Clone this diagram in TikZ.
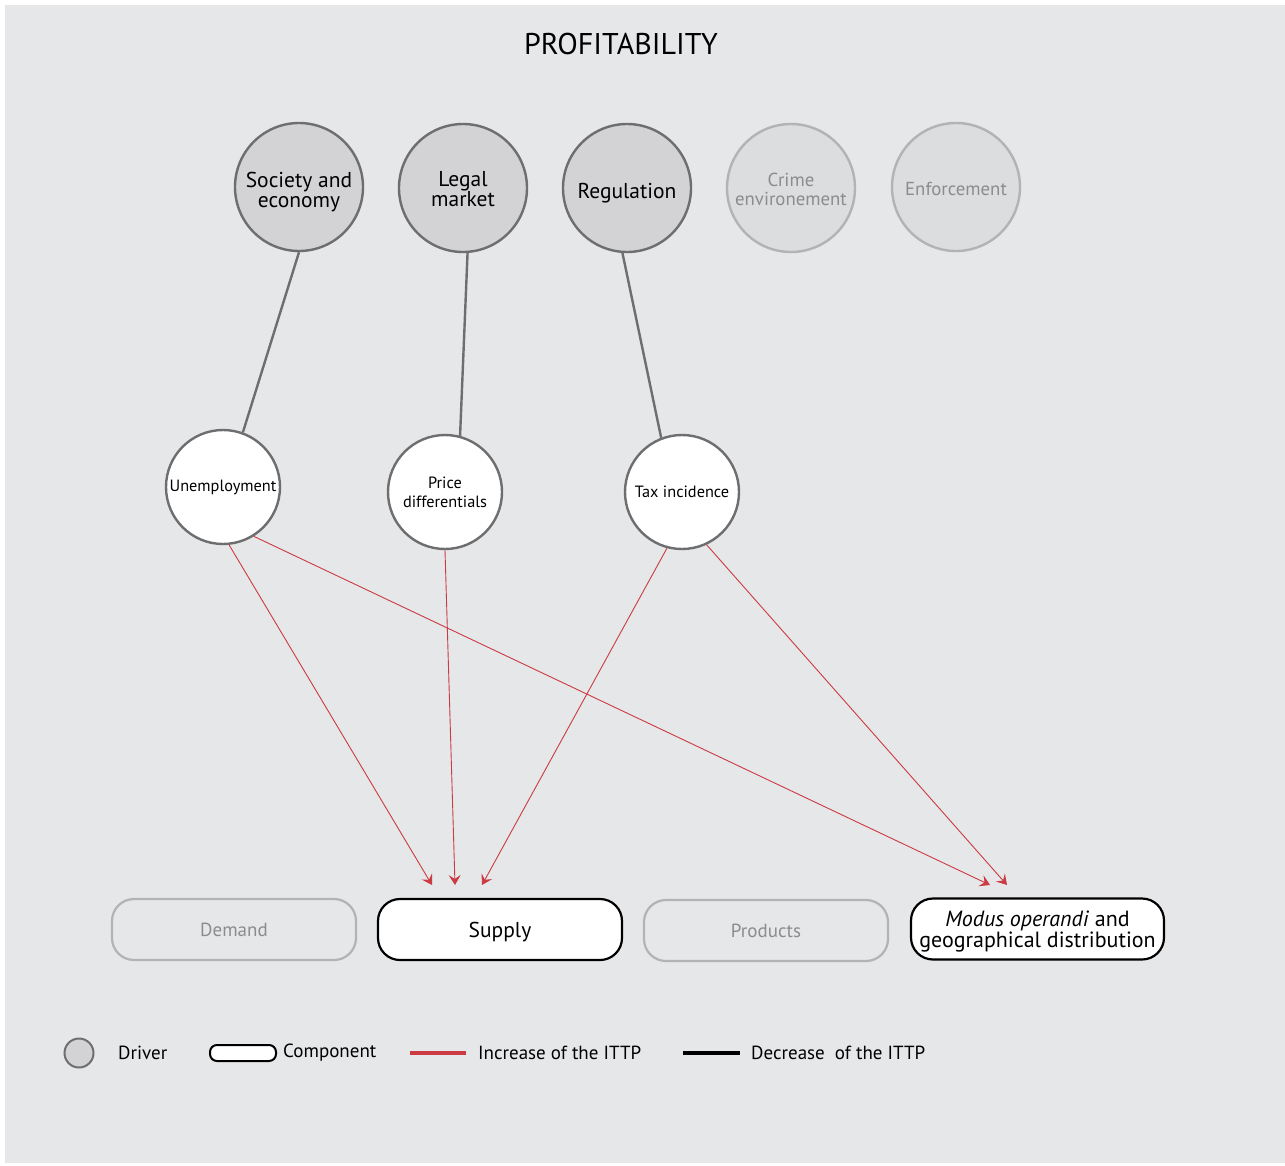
\documentclass[tikz,border=0pt]{standalone}
\usepackage{fontspec}
\setmainfont{PT Sans}
\usetikzlibrary{arrows.meta}
\definecolor{bg}{HTML}{E6E7E9}
\definecolor{drvfill}{HTML}{D3D3D5}
\definecolor{fadefill}{HTML}{DCDDDF}
\definecolor{edgegray}{HTML}{6E6E70}
\definecolor{fadeedge}{HTML}{B3B3B5}
\definecolor{fadetext}{HTML}{8C8C8E}
\definecolor{incred}{HTML}{CC3A42}
\tikzset{
  driver/.style={circle, draw=edgegray, line width=2.4pt, fill=drvfill,
    minimum size=128pt, inner sep=0pt},
  fadedriver/.style={driver, draw=fadeedge, fill=fadefill},
  drvtext/.style={align=center, inner sep=0pt, text depth=0pt, yshift=-2.5pt,
    font=\fontsize{21.5}{20}\selectfont},
  fadetxt/.style={drvtext, text=fadetext, font=\fontsize{18.8}{19}\selectfont},
  factor/.style={circle, draw=edgegray, line width=2.4pt, fill=white,
    minimum size=114pt, inner sep=0pt, align=center,
    font=\fontsize{16.3}{19}\selectfont},
  compbox/.style={rectangle, rounded corners=22pt, draw=black, line width=2.2pt,
    fill=white, minimum width=244pt, minimum height=61pt, align=center,
    text depth=0pt, font=\fontsize{21.5}{19}\selectfont},
  fadebox/.style={compbox, draw=fadeedge, fill=bg, text=fadetext,
    font=\fontsize{19}{19}\selectfont},
  link/.style={draw=edgegray, line width=2.4pt},
  incr/.style={draw=incred, line width=0.9pt,
    -{Stealth[length=10pt, width=12pt, inset=4pt]}},
  legtext/.style={anchor=west, inner sep=0pt, font=\fontsize{19}{19}\selectfont}
}
\begin{document}
\begin{tikzpicture}[x=1pt, y=-1pt]
\useasboundingbox (0,0) rectangle (1285,1165);
\fill[bg] (5,5) rectangle (1285,1163);

% title
\node[font=\fontsize{30}{30}\selectfont] (title) at (621,44) {PROFITABILITY};

% drivers
\node[driver, label={[drvtext]center:{Society and\\economy}}] (soc) at (299,187) {};
\node[driver, label={[drvtext, yshift=1.5pt]center:{Legal\\market}}] (legal) at (463,188) {};
\node[driver, label={[drvtext]center:{Regulation}}] (reg) at (627,188) {};
\node[fadedriver, label={[fadetxt, yshift=1pt]center:{Crime\\environement}}] (crime) at (791,188) {};
\node[fadedriver, label={[fadetxt, yshift=1pt]center:{Enforcement}}] (enf) at (956,187) {};

% factors
\node[factor] (unemp) at (223,487) {Unemployment};
\node[factor] (price) at (445,492) {Price\\differentials};
\node[factor] (tax) at (682,492) {Tax incidence};

% components
\node[fadebox] (demand) at (234,929.5) {Demand};
\node[compbox] (supply) at (500,929.5) {Supply};
\node[fadebox] (products) at (766,930.5) {Products};
\node[compbox, minimum width=253pt, font=\fontsize{22}{19.5}\selectfont] (modus) at (1037.5,929) {\textit{Modus operandi} and\\geographical distribution};

% driver links
\draw[link] (soc.south) -- (unemp.70);
\draw[link] (legal.-86) -- (price.75);
\draw[link] (reg.-94) -- (tax.111);

% arrow targets above the components
\coordinate (s1) at (432,885);
\coordinate (s2) at (455,885);
\coordinate (s3) at (482,885);
\coordinate (m1) at (990,885);
\coordinate (m2) at (1007,885);

% increases
\draw[incr] (unemp.-84) -- (s1);
\draw[incr] (price.-90) -- (s2);
\draw[incr] (tax.-105) -- (s3);
\draw[incr] (unemp.-58) -- (m1);
\draw[incr] (tax.-65) -- (m2);

% legend
\node[circle, draw=edgegray, line width=2pt, fill=drvfill, minimum size=29pt, inner sep=0pt] (legdrv) at (79,1053) {};
\node[legtext] (legdrvt) at (118,1053) {Driver};
\node[rectangle, rounded corners=7pt, draw=black, line width=2pt, fill=white,
  minimum width=66pt, minimum height=16pt, inner sep=0pt] (legcomp) at (243,1053) {};
\node[legtext] (legcompt) at (283,1053) {Component};
\coordinate (ia) at (410,1053);
\coordinate (ib) at (466,1053);
\draw[draw=incred, line width=4pt] (ia) -- (ib);
\node[legtext] (legincr) at (478,1053) {Increase of the ITTP};
\coordinate (da) at (683,1053);
\coordinate (db) at (740,1053);
\draw[draw=black, line width=4pt] (da) -- (db);
\node[legtext] (legdecr) at (751,1053) {Decrease\ \ of the ITTP};
\end{tikzpicture}
\end{document}
